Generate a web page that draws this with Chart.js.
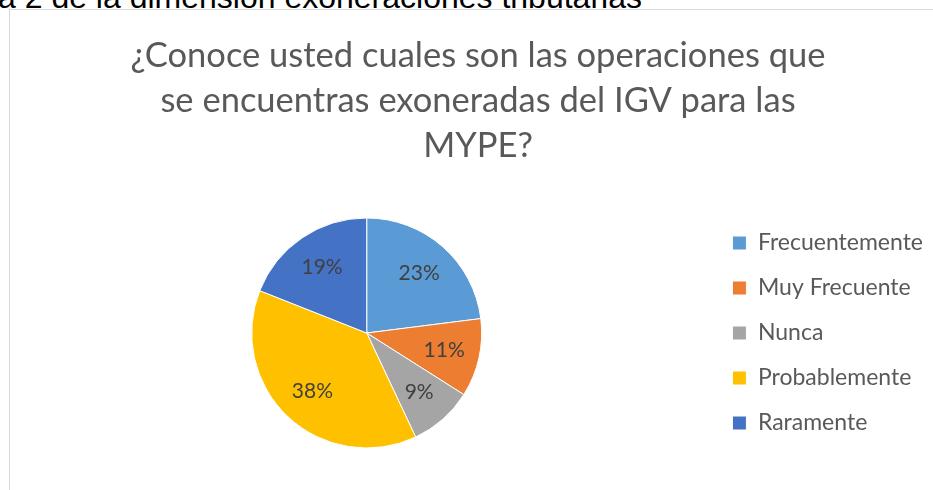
<!DOCTYPE html>
<html>
<head>
<meta charset="utf-8">
<script src="https://cdn.jsdelivr.net/npm/chart.js@4.4.0/dist/chart.umd.min.js"></script>
<style>
  html, body { margin: 0; padding: 0; background: #fff; overflow: hidden; width: 933px; height: 490px; }
  #caption { position: absolute; left: -2px; top: -18px; font: 32px/30px "Liberation Sans", Arial, sans-serif; color: #000; white-space: nowrap; }
  #box { position: absolute; left: 9px; top: 9px; width: 960px; height: 500px; border: 1px solid #d9d9d9; }
  #wrap { position: absolute; left: 10px; top: 10px; width: 940px; height: 480px; }
</style>
</head>
<body>
<div id="caption">a 2 de la dimensión exoneraciones tributarias</div>
<div id="box"></div>
<div id="wrap"><canvas id="pieChart"></canvas></div>
<script>
const categories = ['Frecuentemente', 'Muy Frecuente', 'Nunca', 'Probablemente', 'Raramente'];
const percentages = [23, 11, 9, 38, 19];
const sliceColors = ['#5B9BD5', '#ED7D31', '#A5A5A5', '#FFC000', '#4472C4'];
const titleLines = ['¿Conoce usted cuales son las operaciones que', 'se encuentras exoneradas del IGV para las', 'MYPE?'];

const FONT = 'Lato, "Open Sans", sans-serif';

// draws the % labels inside each slice
const sliceLabels = {
    id: 'sliceLabels',
    afterDatasetsDraw(chart) {
        const ctx = chart.ctx;
        const meta = chart.getDatasetMeta(0);
        ctx.save();
        ctx.font = '21px ' + FONT;
        ctx.fillStyle = '#404040';
        ctx.textAlign = 'center';
        ctx.textBaseline = 'middle';
        meta.data.forEach((arc, i) => {
            const mid = (arc.startAngle + arc.endAngle) / 2;
            const r = arc.outerRadius * 0.69;
            ctx.fillText(percentages[i] + '%', arc.x + Math.cos(mid) * r, arc.y + Math.sin(mid) * r);
        });
        ctx.restore();
    }
};

const cht = document.getElementById('pieChart').getContext('2d');
const pieChart = new Chart(cht, {
    type: 'pie',
    data: {
        labels: categories,
        datasets: [{
            data: percentages,
            backgroundColor: sliceColors,
            borderColor: '#ffffff',
            borderWidth: 1,
            radius: 115
        }]
    },
    options: {
        responsive: true,
        maintainAspectRatio: false,
        animation: false,
        layout: { padding: { left: 13, right: 17, top: 0, bottom: 29 } },
        plugins: {
            title: {
                display: true,
                text: titleLines,
                color: '#595959',
                font: { family: FONT, size: 34.5, weight: 'normal', lineHeight: '45px' },
                padding: { top: 23, bottom: 37 }
            },
            legend: {
                position: 'right',
                fullSize: false,
                labels: {
                    boxWidth: 14,
                    boxHeight: 14,
                    padding: 22,
                    color: '#595959',
                    font: { family: FONT, size: 23 }
                }
            },
            tooltip: { enabled: false }
        }
    },
    plugins: [sliceLabels]
});
</script>
</body>
</html>
